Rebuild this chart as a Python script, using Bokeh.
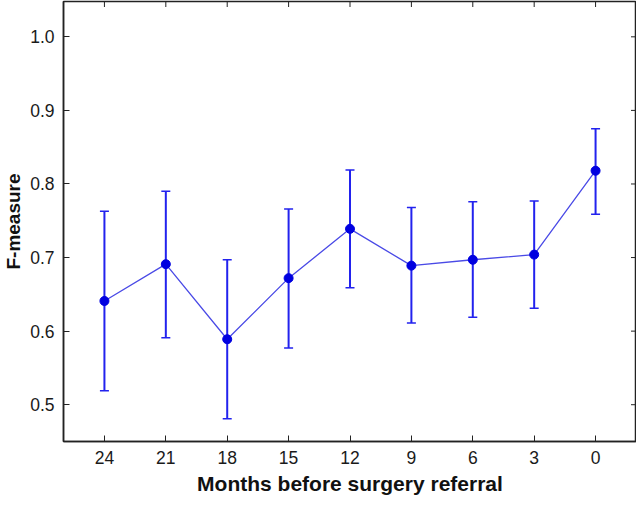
import math
from bokeh.plotting import figure
from bokeh.models import (ColumnDataSource, Range1d, FixedTicker,
                          Whisker, TeeHead, PrintfTickFormatter)
from bokeh.embed import file_html
from bokeh.resources import INLINE

months = [24, 21, 18, 15, 12, 9, 6, 3, 0]
fmeasure = [0.641, 0.691, 0.589, 0.672, 0.739, 0.689, 0.697, 0.704, 0.818]
err_upper = [0.763, 0.790, 0.697, 0.766, 0.819, 0.768, 0.776, 0.777, 0.875]
err_lower = [0.519, 0.591, 0.481, 0.577, 0.659, 0.611, 0.619, 0.631, 0.759]
y_ticks = [0.5, 0.6, 0.7, 0.8, 0.9, 1.0]

src = ColumnDataSource(dict(x=months, y=fmeasure, up=err_upper, lo=err_lower))

FONT = "Liberation Sans"
AX = "#222222"

xr = Range1d(26, -2)
yr = Range1d(0.45, 1.048)
p = figure(width=636, height=497, output_backend="svg", toolbar_location=None,
           x_range=xr, y_range=yr,
           min_border_left=55, min_border_right=0, min_border_top=1,
           min_border_bottom=0)
p.grid.visible = False
p.outline_line_color = AX
p.outline_line_width = 1.5
p.background_fill_color = "white"
p.border_fill_color = "white"

p.xaxis.ticker = FixedTicker(ticks=months)
p.yaxis.ticker = FixedTicker(ticks=y_ticks)
p.yaxis.formatter = PrintfTickFormatter(format="%.1f")

for ax in (p.xaxis[0], p.yaxis[0]):
    ax.axis_line_color = AX
    ax.axis_line_width = 1.5
    ax.major_tick_in = 6
    ax.major_tick_out = 0
    ax.major_tick_line_color = AX
    ax.minor_tick_line_color = None
    ax.major_label_text_font = FONT
    ax.major_label_text_font_size = "17.5px"
    ax.major_label_text_color = "#1a1a1a"
    ax.axis_label_text_font = FONT
    ax.axis_label_text_font_style = "bold"
    ax.axis_label_text_color = "#111111"

p.xaxis.axis_label = "Months before surgery referral"
p.yaxis.axis_label = "F-measure"
p.xaxis.axis_label_text_font_size = "21px"
p.yaxis.axis_label_text_font_size = "19px"
p.xaxis.major_label_standoff = 9
p.xaxis.axis_label_standoff = 5
p.yaxis.major_label_standoff = 9
p.yaxis.axis_label_standoff = 3

# inward tick marks on the top and right edges of the frame (clipped half-dashes)
p.scatter(x=months, y=[yr.end] * len(months), marker="dash", size=11,
          angle=math.pi / 2, line_color=AX, line_width=1)
p.scatter(x=[xr.end] * len(y_ticks), y=y_ticks, marker="dash", size=11,
          line_color=AX, line_width=1)

whisk = Whisker(source=src, base="x", upper="up", lower="lo", dimension="height",
                line_color="#2222ee", line_width=2,
                upper_head=TeeHead(size=9, line_color="#2222ee", line_width=1.5),
                lower_head=TeeHead(size=9, line_color="#2222ee", line_width=1.5))
p.add_layout(whisk)

p.line("x", "y", source=src, line_color="#4a4ae6", line_width=1.3)
p.scatter("x", "y", source=src, size=9, fill_color="#0000e0", line_color="#0000e0")

open("out.html", "w").write(file_html(p, INLINE))
